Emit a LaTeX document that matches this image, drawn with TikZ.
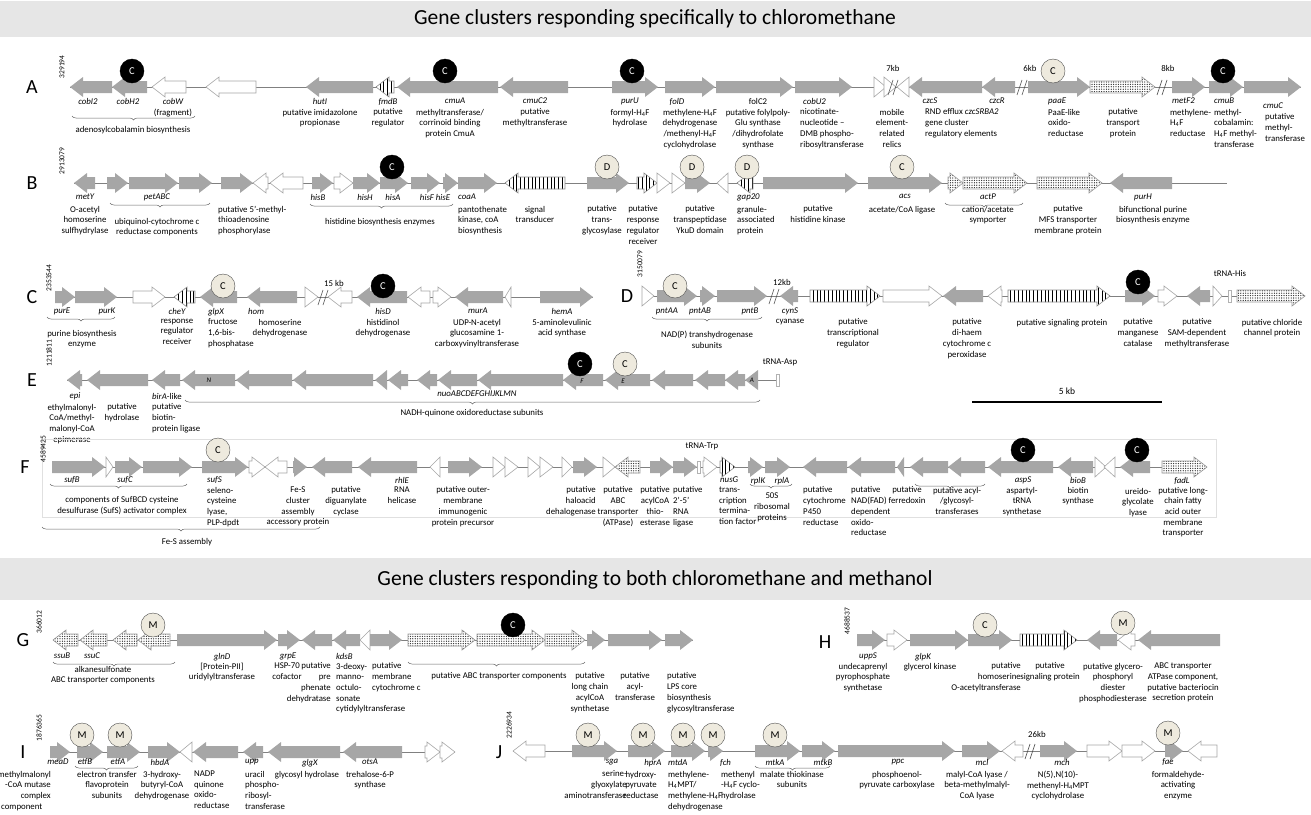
\documentclass[tikz,border=0pt]{standalone}
\usepackage{fontspec}
\setmainfont{Carlito}
\usetikzlibrary{decorations.pathreplacing,patterns.meta}
\definecolor{genegray}{RGB}{166,166,166}
\definecolor{cream}{RGB}{238,234,222}
\definecolor{band}{RGB}{230,230,230}
\newcommand{\lfont}{\fontsize{8.8}{10.7}\selectfont}
\newcommand{\Hf}{H\textsubscript{4}F}
\newcommand{\rgene}[4][gg]{%
  \pgfmathsetmacro{\hx}{max(#2,#3-13)}%
  \path[#1] (#2,#4-6) -- (\hx,#4-6) -- (\hx,#4-10) -- (#3,#4) -- (\hx,#4+10) -- (\hx,#4+6) -- (#2,#4+6) -- cycle;}
\newcommand{\lgene}[4][gg]{%
  \pgfmathsetmacro{\hx}{min(#3,#2+13)}%
  \path[#1] (#3,#4-6) -- (\hx,#4-6) -- (\hx,#4-10) -- (#2,#4) -- (\hx,#4+10) -- (\hx,#4+6) -- (#3,#4+6) -- cycle;}
\newcommand{\brk}[2]{\draw[black!70,line width=0.6pt] (#1-5,#2+8) -- (#1,#2-7) (#1,#2+8) -- (#1+5,#2-7);}
\newcommand{\trna}[2]{\draw[black!30,fill=white] (#1-1.5,#2-6) rectangle (#1+1.5,#2+6);}
\tikzset{
  gg/.style={fill=genegray},
  op/.style={fill=white,draw=black!35,line width=0.6pt},
  str/.style={draw=black!45,line width=0.6pt,preaction={fill=white},pattern={Lines[angle=90,distance=3.8pt,line width=0.9pt]}},
  dot/.style={draw=black!40,line width=0.6pt,preaction={fill=white},pattern={Dots[distance=2.4pt,radius=0.65pt]},pattern color=black!85},
  bb/.style={draw=black!50,line width=0.6pt},
  lab/.style={font=\lfont,align=center,inner sep=0pt,anchor=north,yshift=4.3pt},
  labl/.style={lab,anchor=north west,align=left},
  labr/.style={lab,anchor=north east,align=right},
  gn/.style={lab,font=\lfont\itshape},
  gnl/.style={gn,anchor=north west},
  cl/.style={circle,draw=black!70,fill=cream,minimum size=24pt,inner sep=0pt,font=\fontsize{10.5}{11}\selectfont},
  cd/.style={cl,fill=black,draw=black,text=white},
  brc/.style={decorate,decoration={brace,mirror,amplitude=4pt},draw=black!60,line width=0.5pt},
  rowl/.style={font=\fontsize{20}{20}\selectfont,inner sep=0pt},
  crd/.style={rotate=90,font=\fontsize{7.5}{8}\selectfont,inner sep=0pt},
  ttl/.style={font=\fontsize{21.5}{23}\selectfont,inner sep=0pt},
  inl/.style={font=\fontsize{7}{7}\selectfont\itshape,inner sep=0pt}
}
\begin{document}
\begin{tikzpicture}[x=1pt,y=-1pt]
\useasboundingbox (0,0) rectangle (1311,814);
\fill[band] (0,1) rectangle (1311,37);
\node[ttl] (t1) at (655,19) {Gene clusters responding specifically to chloromethane};
\fill[band] (0,558) rectangle (1311,600);
\node[ttl] (t2) at (655,580) {Gene clusters responding to both chloromethane and methanol};

% A
\node[rowl] (rA) at (32,87) {A};
\node[crd] (cA) at (62,67) {329194};
\draw[bb] (70,87) -- (1301,87);
\lgene{70}{112}{87}
\lgene{112}{147}{87}
\lgene[op]{152}{186}{87}
\lgene[op]{206}{256}{87}
\lgene{306}{373}{87}
\lgene[str]{376}{394}{87}
\lgene{397}{498}{87}
\lgene{500}{568}{87}
\rgene{612}{658}{87}
\rgene{665}{715}{87}
\rgene{716}{793}{87}
\rgene{795}{852}{87}
\rgene[op]{874}{886}{87}
\rgene[op]{884}{896}{87}
\lgene[op]{897}{909}{87}
\brk{893}{87}
\node[lab] (kA1) at (893,69) {7kb};
\lgene{909}{982}{87}
\lgene{982}{1015}{87}
\brk{1022}{87}
\node[lab] (kA2) at (1030,69) {6kb};
\rgene{1028}{1090}{87}
\rgene[dot]{1090}{1155}{87}
\brk{1162}{87}
\node[lab] (kA3) at (1168,69) {8kb};
\rgene{1172}{1205}{87}
\rgene{1209}{1243}{87}
\rgene{1244}{1301}{87}
\node[cd] (mA1) at (132,71) {C};
\node[cd] (mA2) at (445,71) {C};
\node[cd] (mA3) at (632,71) {C};
\node[cl] (mA4) at (1053,71) {C};
\node[cd] (mA5) at (1223,71) {C};
\node[gn] (cobI2) at (88,102) {cobI2};
\node[gn] (cobH2) at (128,102) {cobH2};
\node[gn] (cobW) at (173,102) {cobW};
\node[lab] (dcobW) at (173,113) {(fragment)};
\draw[brc] (72,116) -- (195,116);
\node[lab] (dcob) at (133,130) {adenosylcobalamin biosynthesis};
\node[gn] (hutI) at (320,102) {hutI};
\node[lab] (dhutI) at (320,113) {putative imidazolone\\propionase};
\node[gn] (fmdB) at (388,102) {fmdB};
\node[lab] (dfmdB) at (388,113) {putative\\regulator};
\node[gn] (cmuA) at (455,102) {cmuA};
\node[lab] (dcmuA) at (450,113) {methyltransferase/\\corrinoid binding\\protein CmuA};
\node[gn] (cmuC2) at (535,102) {cmuC2};
\node[lab] (dcmuC2) at (535,113) {putative\\methyltransferase};
\node[gn] (purU) at (630,102) {purU};
\node[lab] (dpurU) at (630,113) {formyl-\Hf\\hydrolase};
\node[gn] (folD) at (677,102) {folD};
\node[lab] (dfolD) at (690,113) {methylene-\Hf\\dehydrogenase\\/methenyl-\Hf\\cyclohydrolase};
\node[lab] (folC2) at (758,102) {folC2};
\node[lab] (dfolC2) at (758,113) {putative folylpoly-\\Glu synthase\\/dihydrofolate\\synthase};
\node[gnl] (cobU2) at (803,102) {cobU2};
\node[labl] (dcobU2) at (800,113) {nicotinate-\\nucleotide --\\DMB phospho-\\ribosyltransferase};
\node[lab] (dmob) at (892,113) {mobile\\element-\\related\\relics};
\node[gn] (czcS) at (930,102) {czcS};
\node[gn] (czcR) at (997,102) {czcR};
\node[labl] (dczc) at (925,113) {RND efflux \textit{czcSRBA2}\\gene cluster\\regulatory elements};
\node[gnl] (paaE) at (1048,102) {paaE};
\node[labl] (dpaaE) at (1048,113) {PaaE-like\\oxido-\\reductase};
\node[lab] (dtrA) at (1123,113) {putative\\transport\\protein};
\node[gnl] (metF2) at (1172,102) {metF2};
\node[labl] (dmetF2) at (1170,113) {methylene-\\\Hf\\reductase};
\node[gnl] (cmuB) at (1214,102) {cmuB};
\node[labl] (dcmuB) at (1214,113) {methyl-\\cobalamin:\\\Hf{} methyl-\\transferase};
\node[gn] (cmuC) at (1273,107) {cmuC};
\node[labl] (dcmuC) at (1265,118) {putative\\methyl-\\transferase};

% B
\node[rowl] (rB) at (32,183) {B};
\node[crd] (cB) at (62,161) {2913079};
\draw[bb] (74,183) -- (1227,183);
\lgene{74}{95}{183}
\rgene{107}{128}{183}
\rgene{129}{178}{183}
\rgene{179}{212}{183}
\rgene{221}{253}{183}
\lgene[op]{253}{268}{183}
\lgene[op]{270}{303}{183}
\rgene{312}{333}{183}
\rgene[op]{334}{353}{183}
\rgene{353}{380}{183}
\rgene{380}{408}{183}
\rgene{411}{440}{183}
\rgene{443}{458}{183}
\rgene{458}{497}{183}
\lgene[str]{505}{565}{183}
\rgene{587}{629}{183}
\rgene[str]{637}{657}{183}
\rgene[op]{657}{670}{183}
\rgene[op]{672}{685}{183}
\rgene{685}{710}{183}
\lgene[op]{717}{728}{183}
\lgene[str]{737}{753}{183}
\rgene{763}{858}{183}
\rgene{868}{942}{183}
\rgene[dot]{948}{963}{183}
\rgene[dot]{963}{1027}{183}
\rgene[dot]{1037}{1102}{183}
\lgene{1110}{1172}{183}
\node[cd] (mB1) at (392,167) {C};
\node[cl] (mB2) at (607,167) {D};
\node[cl] (mB3) at (692,167) {D};
\node[cl] (mB4) at (747,167) {D};
\node[cl] (mB5) at (902,167) {C};
\node[gn] (metY) at (85,198) {metY};
\node[lab] (dmetY) at (85,210) {O-acetyl\\homoserine\\sulfhydrylase};
\node[gn] (petABC) at (157,198) {petABC};
\draw[brc] (110,203) -- (210,203);
\node[lab] (dpet) at (157,222) {ubiquinol-cytochrome c\\reductase components};
\node[labl] (dmtap) at (218,210) {putative 5'-methyl-\\thioadenosine\\phosphorylase};
\node[gn] (hisB) at (318,198) {hisB};
\node[gn] (hisH) at (365,198) {hisH};
\node[gn] (hisA) at (393,198) {hisA};
\node[gn] (hisF) at (427,198) {hisF};
\node[gn] (hisE) at (443,198) {hisE};
\draw[brc] (310,204) -- (453,204);
\node[lab] (dhis) at (380,222) {histidine biosynthesis enzymes};
\node[gnl] (coaA) at (458,198) {coaA};
\node[labl] (dcoaA) at (458,210) {pantothenate\\kinase, coA\\biosynthesis};
\node[lab] (dsig) at (535,210) {signal\\transducer};
\node[lab] (dgly) at (602,210) {putative\\trans-\\glycosylase};
\node[lab] (drrr) at (643,210) {putative\\response\\regulator\\receiver};
\node[lab] (dykd) at (700,210) {putative\\transpeptidase\\YkuD domain};
\node[gnl] (gap20) at (737,198) {gap20};
\node[labl] (dgap20) at (737,210) {granule-\\associated\\protein};
\node[lab] (dhk) at (818,210) {putative\\histidine kinase};
\node[gn] (acs) at (905,198) {acs};
\node[lab] (dacs) at (902,210) {acetate/CoA ligase};
\node[gn] (actP) at (988,198) {actP};
\draw[brc] (945,203) -- (1023,203);
\node[lab] (dactP) at (988,210) {cation/acetate\\symporter};
\node[lab] (dmfs) at (1068,210) {putative\\MFS transporter\\membrane protein};
\node[gn] (purH) at (1143,198) {purH};
\node[lab] (dpurH) at (1153,210) {bifunctional purine\\biosynthesis enzyme};

% C
\node[rowl] (rC) at (32,297) {C};
\node[crd] (cC) at (49,278) {2353544};
\draw[bb] (55,297) -- (593,297);
\rgene{55}{75}{297}
\rgene{75}{117}{297}
\rgene[op]{133}{165}{297}
\lgene[str]{174}{195}{297}
\lgene{200}{237}{297}
\lgene{247}{297}{297}
\rgene[op]{305}{318}{297}
\brk{323}{297}
\node[lab] (kC) at (334,284) {15 kb};
\lgene[op]{328}{352}{297}
\lgene{357}{407}{297}
\lgene[op]{408}{430}{297}
\rgene[op]{433}{451}{297}
\lgene{455}{503}{297}
\lgene[op]{505}{511}{297}
\rgene{540}{593}{297}
\node[cl] (mC1) at (223,286) {C};
\node[cd] (mC2) at (383,286) {C};
\node[gn] (purE) at (62,312) {purE};
\node[gn] (purK) at (107,312) {purK};
\draw[brc] (47,317) -- (115,317);
\node[lab] (dpur) at (82,334) {purine biosynthesis\\enzyme};
\node[gn] (cheY) at (177,312) {cheY};
\node[lab] (dcheY) at (177,323) {response\\regulator\\receiver};
\node[gnl] (glpX) at (208,312) {glpX};
\node[labl] (dglpX) at (208,323) {fructose\\1,6-bis-\\phosphatase};
\node[gnl] (hom) at (248,312) {hom};
\node[lab] (dhom) at (280,323) {homoserine\\dehydrogenase};
\node[gn] (hisD) at (383,312) {hisD};
\node[lab] (dhisD) at (383,323) {histidinol\\dehydrogenase};
\node[gn] (murA) at (478,312) {murA};
\node[lab] (dmurA) at (477,323) {UDP-N-acetyl\\glucosamine 1-\\carboxyvinyltransferase};
\node[gn] (hemA) at (562,312) {hemA};
\node[lab] (dhemA) at (562,323) {5-aminolevulinic\\acid synthase};

% D
\node[rowl] (rD) at (627,296) {D};
\node[crd] (cD) at (640,264) {3150079};
\draw[bb] (642,296) -- (1305,296);
\rgene[op]{642}{654}{296}
\rgene{657}{697}{296}
\rgene{700}{715}{296}
\rgene{717}{767}{296}
\brk{774}{296}
\node[lab] (kD) at (782,283) {12kb};
\lgene{780}{798}{296}
\rgene[str]{810}{880}{296}
\rgene[op]{883}{942}{296}
\lgene{943}{983}{296}
\lgene[op]{988}{1002}{296}
\rgene[str]{1008}{1110}{296}
\rgene{1125}{1155}{296}
\rgene[op]{1158}{1177}{296}
\lgene{1187}{1210}{296}
\rgene[op]{1213}{1222}{296}
\trna{1230}{296}
\node[lab] (tHis) at (1230,275) {tRNA-His};
\rgene[dot]{1237}{1305}{296}
\node[cl] (mD1) at (675,286) {C};
\node[cd] (mD2) at (1138,282) {C};
\node[gn] (pntAA) at (667,312) {pntAA};
\node[gn] (pntAB) at (700,312) {pntAB};
\node[gn] (pntB) at (750,312) {pntB};
\draw[brc] (652,317) -- (762,317);
\node[lab] (dpnt) at (707,335) {NAD(P) transhydrogenase\\subunits};
\node[gn] (cynS) at (790,312) {cynS};
\node[lab] (dcynS) at (790,323) {cyanase};
\node[lab] (dtr) at (853,323) {putative\\transcriptional\\regulator};
\node[lab] (dhaem) at (967,323) {putative\\di-haem\\cytochrome c\\peroxidase};
\node[lab] (dsp) at (1062,323) {putative signaling protein};
\node[lab] (dmn) at (1138,323) {putative\\manganese\\catalase};
\node[lab] (dsam) at (1197,323) {putative\\SAM-dependent\\methyltransferase};
\node[lab] (dcl) at (1272,323) {putative chloride\\channel protein};

% E
\node[rowl] (rE) at (32,380) {E};
\node[crd] (cE) at (49,353) {1211811};
\draw[bb] (67,380) -- (778,380);
\lgene{67}{82}{380}
\lgene{87}{148}{380}
\lgene{152}{180}{380}
\lgene{182}{235}{380}
\lgene{236}{292}{380}
\lgene{293}{373}{380}
\lgene{375}{387}{380}
\lgene{388}{408}{380}
\lgene{417}{437}{380}
\lgene{438}{477}{380}
\lgene{478}{563}{380}
\lgene{563}{603}{380}
\lgene{605}{650}{380}
\lgene{652}{693}{380}
\lgene{695}{725}{380}
\lgene{725}{745}{380}
\lgene{745}{758}{380}
\trna{778}{380}
\node[lab] (tAsp) at (780,363) {tRNA-Asp};
\node[inl] (nuoN) at (209,380) {N};
\node[inl] (nuoF) at (582,381) {F};
\node[inl] (nuoE) at (623,381) {E};
\node[inl] (nuoA) at (752,380) {A};
\node[cd] (mE1) at (580,364) {C};
\node[cl] (mE2) at (625,364) {C};
\node[gn] (epi) at (75,397) {epi};
\node[lab] (depi) at (72,408) {ethylmalonyl-\\CoA/methyl-\\malonyl-CoA\\epimerase};
\node[lab] (dhyd) at (122,408) {putative\\hydrolase};
\node[labl] (birA) at (152,397) {\textit{birA}-like};
\node[labl] (dbirA) at (152,408) {putative\\biotin-\\protein ligase};
\node[gn] (nuo) at (477,395) {nuoABCDEFGHIJKLMN};
\draw[brc] (185,400) -- (760,400);
\node[lab] (dnuo) at (472,413) {NADH-quinone oxidoreductase subunits};
\node[font=\fontsize{9.5}{10}\selectfont,inner sep=0pt] (kb5) at (1067,391) {5 kb};
\draw[line width=1.5pt] (972,402) -- (1162,402);

% F
\draw[black!12] (42,439) rectangle (1216,517);
\node[rowl] (rF) at (25,467) {F};
\node[crd] (cF) at (43,449) {4589425};
\draw[bb] (52,467) -- (1207,467);
\rgene{52}{105}{467}
\rgene[op]{106}{113}{467}
\rgene{115}{142}{467}
\rgene{143}{192}{467}
\rgene{202}{248}{467}
\rgene[op]{249}{265}{467}
\lgene[op]{265}{287}{467}
\rgene{293}{307}{467}
\lgene{312}{352}{467}
\lgene{358}{417}{467}
\lgene[op]{430}{440}{467}
\rgene{448}{482}{467}
\rgene[op]{493}{505}{467}
\rgene[op]{505}{518}{467}
\rgene[op]{528}{540}{467}
\rgene[op]{540}{553}{467}
\rgene[op]{562}{572}{467}
\rgene{573}{597}{467}
\rgene[op]{603}{615}{467}
\lgene[dot]{615}{640}{467}
\rgene{650}{673}{467}
\rgene{673}{697}{467}
\trna{699}{467}
\node[lab] (tTrp) at (702,447) {tRNA-Trp};
\rgene[op]{703}{717}{467}
\rgene[str]{720}{735}{467}
\rgene{748}{763}{467}
\rgene{765}{790}{467}
\lgene{803}{847}{467}
\lgene{848}{895}{467}
\lgene{897}{904}{467}
\lgene{910}{948}{467}
\lgene{948}{985}{467}
\lgene{988}{1053}{467}
\lgene{1058}{1093}{467}
\rgene[op]{1095}{1106}{467}
\lgene[op]{1104}{1115}{467}
\lgene{1120}{1150}{467}
\rgene[dot]{1162}{1207}{467}
\node[cl] (mF1) at (218,450) {C};
\node[cd] (mF2) at (1023,450) {C};
\node[cd] (mF3) at (1137,450) {C};
\node[gn] (sufB) at (72,481) {sufB};
\node[gn] (sufC) at (125,481) {sufC};
\draw[brc] (50,484) -- (187,484);
\node[lab] (dsuf) at (122,501) {components of SufBCD cysteine\\desulfurase (SufS) activator complex};
\draw[brc] (42,527) -- (320,527);
\node[lab] (dfes) at (187,542) {Fe-S assembly};
\node[gnl] (sufS) at (207,481) {sufS};
\node[labl] (dsufS) at (207,491) {seleno-\\cysteine\\lyase,\\PLP-dpdt};
\node[lab] (dfesc) at (298,491) {Fe-S\\cluster\\assembly\\accessory protein};
\node[lab] (ddgc) at (346,491) {putative\\diguanylate\\cyclase};
\node[gn] (rhlE) at (402,481) {rhlE};
\node[lab] (drhlE) at (402,491) {RNA\\helicase};
\node[lab] (domp) at (463,491) {putative outer-\\membrane\\immunogenic\\protein precursor};
\node[labr] (dhal) at (596,491) {putative\\haloacid\\dehalogenase};
\node[lab] (dabc) at (618,491) {putative\\ABC\\transporter\\(ATPase)};
\node[lab] (dthio) at (655,491) {putative\\acylCoA\\thio-\\esterase};
\node[labl] (dlig) at (673,491) {putative\\2'-5'\\RNA\\ligase};
\node[gnl] (nusG) at (720,481) {nusG};
\node[labl] (dnusG) at (719,491) {trans-\\cription\\termina-\\tion factor};
\node[gn] (rplK) at (758,481) {rplK};
\node[gn] (rplA) at (782,481) {rplA};
\draw[brc] (750,484) -- (792,484);
\node[lab] (drpl) at (772,497) {50S\\ribosomal\\proteins};
\node[labl] (dp450) at (803,491) {putative\\cytochrome\\P450\\reductase};
\node[labl] (dnad) at (851,491) {putative\\NAD(FAD)\\dependent\\oxido-\\reductase};
\node[lab] (dfer) at (907,491) {putative\\ferredoxin};
\draw[brc] (915,484) -- (985,484);
\node[lab] (dacyl) at (957,491) {putative acyl-\\/glycosyl-\\transferases};
\node[gn] (aspS) at (1023,481) {aspS};
\node[lab] (daspS) at (1022,491) {aspartyl-\\tRNA\\synthetase};
\node[gn] (bioB) at (1078,481) {bioB};
\node[lab] (dbioB) at (1078,491) {biotin\\synthase};
\node[lab] (durei) at (1138,492) {ureido-\\glycolate\\lyase};
\node[gn] (fadL) at (1182,481) {fadL};
\node[lab] (dfadL) at (1183,491) {putative long-\\chain fatty\\acid outer\\membrane\\transporter};

% G
\node[rowl] (rG) at (23,640) {G};
\node[crd] (cG) at (39,622) {366012};
\draw[bb] (53,640) -- (693,640);
\lgene[dot]{53}{78}{640}
\lgene[dot]{80}{107}{640}
\lgene[dot]{113}{137}{640}
\lgene[dot]{138}{170}{640}
\rgene{177}{277}{640}
\rgene{278}{300}{640}
\lgene{302}{332}{640}
\lgene{333}{360}{640}
\lgene[op]{360}{370}{640}
\rgene{370}{402}{640}
\rgene[dot]{408}{475}{640}
\rgene[dot]{477}{545}{640}
\rgene[dot]{545}{585}{640}
\rgene{587}{605}{640}
\rgene{608}{662}{640}
\rgene{665}{693}{640}
\node[cl] (mG1) at (153,625) {M};
\node[cd] (mG2) at (513,625) {C};
\node[gn] (ssuB) at (62,657) {ssuB};
\node[gn] (ssuC) at (92,657) {ssuC};
\draw[brc] (53,662) -- (175,662);
\node[lab] (dssu) at (103,670) {alkanesulfonate\\ABC transporter components};
\node[gn] (glnD) at (222,657) {glnD};
\node[lab] (dglnD) at (222,667) {[Protein-PII]\\uridylyltransferase};
\node[gn] (grpE) at (288,657) {grpE};
\node[lab] (dgrpE) at (287,667) {HSP-70\\cofactor};
\node[labr] (dpre) at (331,667) {putative\\pre\\phenate\\dehydratase};
\node[gnl] (kdsB) at (336,657) {kdsB};
\node[labl] (dkdsB) at (336,667) {3-deoxy-\\manno-\\octulo-\\sonate\\cytidylyltransferase};
\node[labl] (dmcyt) at (372,667) {putative\\membrane\\cytochrome c};
\draw[brc] (408,662) -- (585,662);
\node[lab] (dabcG) at (499,677) {putative ABC transporter components};
\node[lab] (dlcs) at (590,677) {putative\\long chain\\acylCoA\\synthetase};
\node[lab] (dact) at (635,677) {putative\\acyl-\\transferase};
\node[labl] (dlps) at (667,677) {putative\\LPS core\\biosynthesis\\glycosyltransferase};

% H
\node[rowl] (rH) at (825,642) {H};
\node[crd] (cH) at (847,621) {4688537};
\draw[bb] (857,640) -- (1220,640);
\rgene{857}{885}{640}
\rgene[op]{887}{907}{640}
\rgene{910}{968}{640}
\rgene{968}{1012}{640}
\rgene[str]{1020}{1077}{640}
\lgene{1087}{1117}{640}
\lgene[op]{1118}{1135}{640}
\lgene{1138}{1220}{640}
\node[cl] (mH1) at (985,625) {C};
\node[cl] (mH2) at (1123,623) {M};
\node[gn] (uppS) at (868,657) {uppS};
\node[lab] (duppS) at (863,667) {undecaprenyl\\pyrophosphate\\synthetase};
\node[gn] (glpK) at (923,657) {glpK};
\node[lab] (dglpK) at (930,667) {glycerol kinase};
\node[labr] (dhso) at (1021,667) {putative\\homoserine\\O-acetyltransferase};
\node[lab] (dspH) at (1050,667) {putative\\signaling protein};
\node[lab] (dgpd) at (1113,667) {putative glycero-\\phosphoryl\\diester\\phosphodiesterase};
\node[lab] (dabcH) at (1183,667) {ABC transporter\\ATPase component,\\putative bacteriocin\\secretion protein};

% I
\node[rowl] (rI) at (23,752) {I};
\node[crd] (cI) at (39,728) {1876365};
\draw[bb] (50,752) -- (455,752);
\rgene{50}{70}{752}
\rgene{77}{103}{752}
\rgene{107}{140}{752}
\rgene{148}{180}{752}
\lgene[op]{180}{192}{752}
\lgene{193}{238}{752}
\lgene{243}{263}{752}
\lgene{268}{340}{752}
\lgene{343}{402}{752}
\rgene[op]{425}{440}{752}
\rgene[op]{440}{455}{752}
\node[cl] (mI1) at (82,735) {M};
\node[cl] (mI2) at (120,735) {M};
\node[gn] (meaD) at (58,763) {meaD};
\node[labr] (dmeaD) at (51,775) {methylmalonyl\\-CoA mutase\\complex};
\node[labl] (dmeaD2) at (1,808) {component};
\node[gn] (etfB) at (85,763) {etfB};
\node[gn] (etfA) at (118,763) {etfA};
\draw[brc] (75,766) -- (138,766);
\node[lab] (detf) at (107,775) {electron transfer\\flavoprotein\\subunits};
\node[gn] (hbdA) at (160,763) {hbdA};
\node[lab] (dhbdA) at (162,775) {3-hydroxy-\\butyryl-CoA\\dehydrogenase};
\node[labl] (dnadp) at (194,775) {NADP\\quinone\\oxido-\\reductase};
\node[gnl] (upp) at (245,763) {upp};
\node[labl] (dupp) at (245,775) {uracil\\phospho-\\ribosyl-\\transferase};
\node[gn] (glgX) at (310,763) {glgX};
\node[lab] (dglgX) at (307,775) {glycosyl hydrolase};
\node[gn] (otsA) at (370,763) {otsA};
\node[lab] (dotsA) at (370,775) {trehalose-6-P\\synthase};

% J
\node[rowl] (rJ) at (499,752) {J};
\node[crd] (cJ) at (509,725) {2226934};
\draw[bb] (513,751) -- (1217,751);
\lgene[op]{513}{545}{751}
\rgene{572}{617}{751}
\rgene{628}{665}{751}
\rgene{671}{705}{751}
\rgene{708}{723}{751}
\rgene{755}{800}{751}
\rgene{802}{835}{751}
\rgene{838}{955}{751}
\rgene{962}{1000}{751}
\lgene[op]{1002}{1023}{751}
\brk{1030}{751}
\node[lab] (kJ) at (1037,735) {26kb};
\rgene{1040}{1077}{751}
\rgene[op]{1087}{1122}{751}
\rgene[op]{1122}{1155}{751}
\rgene{1165}{1183}{751}
\lgene[op]{1188}{1217}{751}
\node[cl] (mJ1) at (588,735) {M};
\node[cl] (mJ2) at (643,735) {M};
\node[cl] (mJ3) at (683,735) {M};
\node[cl] (mJ4) at (713,735) {M};
\node[cl] (mJ5) at (775,735) {M};
\node[cl] (mJ6) at (1168,733) {M};
\node[gn] (sga) at (612,763) {sga};
\node[labr] (dsga) at (627,775) {serine-\\glyoxylate\\aminotransferase};
\node[gn] (hprA) at (653,763) {hprA};
\node[lab] (dhprA) at (641,775) {hydroxy-\\pyruvate\\reductase};
\node[gnl] (mtdA) at (668,763) {mtdA};
\node[labl] (dmtdA) at (668,775) {methylene-\\H\textsubscript{4}MPT/\\methylene-\Hf\\dehydrogenase};
\node[gnl] (fch) at (720,763) {fch};
\node[labl] (dfch) at (721,775) {methenyl\\-\Hf{} cyclo-\\hydrolase};
\node[gn] (mtkA) at (775,763) {mtkA};
\node[gn] (mtkB) at (823,763) {mtkB};
\draw[brc] (755,766) -- (830,766);
\node[lab] (dmtk) at (792,775) {malate thiokinase\\subunits};
\node[gn] (ppc) at (898,763) {ppc};
\node[lab] (dppc) at (897,775) {phosphoenol-\\pyruvate carboxylase};
\node[gn] (mcl) at (982,763) {mcl};
\node[lab] (dmcl) at (977,775) {malyl-CoA lyase /\\beta-methylmalyl-\\CoA lyase};
\node[gn] (mch) at (1062,763) {mch};
\node[lab] (dmch) at (1058,775) {N(5),N(10)-\\methenyl-H\textsubscript{4}MPT\\cyclohydrolase};
\node[gn] (fae) at (1168,763) {fae};
\node[lab] (dfae) at (1178,775) {formaldehyde-\\activating\\enzyme};
\end{tikzpicture}
\end{document}
